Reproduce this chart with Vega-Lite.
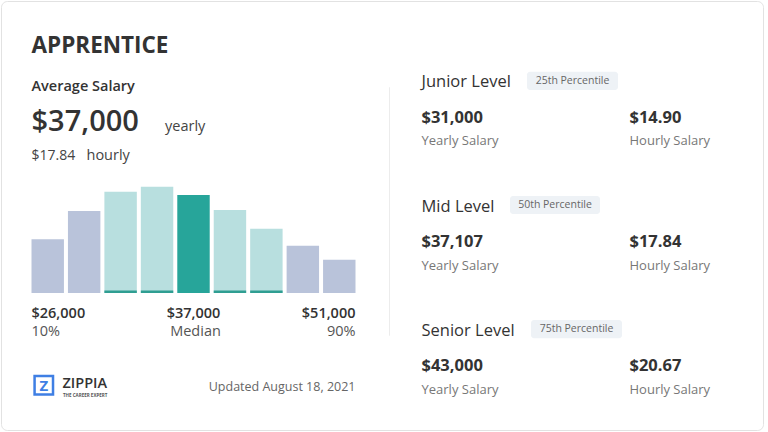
{
  "$schema": "https://vega.github.io/schema/vega-lite/v6.json",
  "width": 768,
  "height": 432,
  "autosize": {"type": "fit", "contains": "padding"},
  "padding": {"left": 1, "top": 1, "right": 5, "bottom": 2},
  "background": "white",
  "config": {
    "font": "Open Sans",
    "view": {"stroke": "#e2e2e2", "cornerRadius": 6, "strokeWidth": 1},
    "axis": {"disable": true},
    "legend": {"disable": true},
    "text": {"font": "Open Sans", "baseline": "alphabetic", "align": "left", "color": "#333333"}
  },
  "datasets": {
    "bars": [
      {"bin": 1, "share": 53.7, "tier": "outer"},
      {"bin": 2, "share": 82, "tier": "outer"},
      {"bin": 3, "share": 101.3, "tier": "mid"},
      {"bin": 4, "share": 106.3, "tier": "mid"},
      {"bin": 5, "share": 98, "tier": "median"},
      {"bin": 6, "share": 83, "tier": "mid"},
      {"bin": 7, "share": 64.3, "tier": "mid"},
      {"bin": 8, "share": 47.3, "tier": "outer"},
      {"bin": 9, "share": 33.3, "tier": "outer"}
    ],
    "marks": [
      {"bin": 1, "salary": "$26,000", "label": "10%"},
      {"bin": 5, "salary": "$37,000", "label": "Median"},
      {"bin": 9, "salary": "$51,000", "label": "90%"}
    ],
    "header": [
      {"line": "title", "value": "APPRENTICE", "unit": ""},
      {"line": "label", "value": "Average Salary", "unit": ""},
      {"line": "salary", "value": "$37,000", "unit": "yearly"},
      {"line": "hourly", "value": "$17.84", "unit": "hourly"}
    ],
    "levels": [
      {"level": "Junior Level", "pct": "25th Percentile", "yearly": "$31,000", "hourly": "$14.90"},
      {"level": "Mid Level", "pct": "50th Percentile", "yearly": "$37,107", "hourly": "$17.84"},
      {"level": "Senior Level", "pct": "75th Percentile", "yearly": "$43,000", "hourly": "$20.67"}
    ],
    "footer": [
      {"icon": "Z", "brand": "ZIPPIA", "tagline": "THE CAREER EXPERT", "updated": "Updated August 18, 2021"}
    ]
  },
  "layer": [
    {
      "layer": [
        {
          "data": {"name": "bars"},
          "mark": {"type": "bar"},
          "encoding": {
            "x": {"field": "bin", "type": "ordinal", "scale": {"type": "band", "domain": [1, 2, 3, 4, 5, 6, 7, 8, 9], "range": [30.5, 354.5], "paddingInner": 0.11, "paddingOuter": 0}, "axis": null},
            "y": {"field": "share", "type": "quantitative", "scale": {"domain": [0, 110], "range": [292, 182], "nice": false, "zero": true}, "axis": null},
            "color": {"field": "tier", "type": "nominal", "scale": {"domain": ["outer", "mid", "median"], "range": ["#b9c3da", "#b8dfdf", "#27a59a"]}, "legend": null}
          }
        },
        {
          "data": {"name": "bars"},
          "transform": [{"filter": "datum.tier == 'mid'"}],
          "mark": {"type": "bar", "color": "#2f9e92"},
          "encoding": {
            "x": {"field": "bin", "type": "ordinal"},
            "y": {"datum": 2.5, "type": "quantitative"},
            "y2": {"datum": 0}
          }
        },
        {
          "data": {"name": "marks"},
          "transform": [{"filter": "datum.bin == 1"}],
          "mark": {"type": "text", "align": "left", "dy": 25, "fontSize": 14.5, "fontWeight": 600, "color": "#333333"},
          "encoding": {
            "x": {"field": "bin", "type": "ordinal", "bandPosition": 0},
            "y": {"datum": 0, "type": "quantitative"},
            "text": {"field": "salary"}
          }
        },
        {
          "data": {"name": "marks"},
          "transform": [{"filter": "datum.bin == 1"}],
          "mark": {"type": "text", "align": "left", "dy": 43, "fontSize": 14.5, "color": "#555555"},
          "encoding": {
            "x": {"field": "bin", "type": "ordinal", "bandPosition": 0},
            "y": {"datum": 0, "type": "quantitative"},
            "text": {"field": "label"}
          }
        },
        {
          "data": {"name": "marks"},
          "transform": [{"filter": "datum.bin == 5"}],
          "mark": {"type": "text", "align": "center", "dy": 25, "fontSize": 14.5, "fontWeight": 600, "color": "#333333"},
          "encoding": {
            "x": {"field": "bin", "type": "ordinal", "bandPosition": 0.5},
            "y": {"datum": 0, "type": "quantitative"},
            "text": {"field": "salary"}
          }
        },
        {
          "data": {"name": "marks"},
          "transform": [{"filter": "datum.bin == 5"}],
          "mark": {"type": "text", "align": "center", "dy": 43, "dx": 2, "fontSize": 14.5, "color": "#555555"},
          "encoding": {
            "x": {"field": "bin", "type": "ordinal", "bandPosition": 0.5},
            "y": {"datum": 0, "type": "quantitative"},
            "text": {"field": "label"}
          }
        },
        {
          "data": {"name": "marks"},
          "transform": [{"filter": "datum.bin == 9"}],
          "mark": {"type": "text", "align": "right", "dy": 25, "fontSize": 14.5, "fontWeight": 600, "color": "#333333"},
          "encoding": {
            "x": {"field": "bin", "type": "ordinal", "bandPosition": 1},
            "y": {"datum": 0, "type": "quantitative"},
            "text": {"field": "salary"}
          }
        },
        {
          "data": {"name": "marks"},
          "transform": [{"filter": "datum.bin == 9"}],
          "mark": {"type": "text", "align": "right", "dy": 43, "fontSize": 14.5, "color": "#555555"},
          "encoding": {
            "x": {"field": "bin", "type": "ordinal", "bandPosition": 1},
            "y": {"datum": 0, "type": "quantitative"},
            "text": {"field": "label"}
          }
        },
        {
          "data": {"name": "footer"},
          "mark": {"type": "point", "shape": "square", "filled": false, "stroke": "#3f7fe4", "strokeWidth": 2.5, "size": 340, "xOffset": 12.3, "yOffset": 92.3, "opacity": 1},
          "encoding": {
            "x": {"datum": 1, "type": "ordinal", "bandPosition": 0},
            "y": {"datum": 0, "type": "quantitative"}
          }
        },
        {
          "data": {"name": "footer"},
          "mark": {"type": "text", "align": "center", "baseline": "middle", "dx": 12.3, "dy": 92.8, "fontSize": 15, "fontWeight": "bold", "color": "#3f7fe4"},
          "encoding": {
            "x": {"datum": 1, "type": "ordinal", "bandPosition": 0},
            "y": {"datum": 0, "type": "quantitative"},
            "text": {"field": "icon"}
          }
        },
        {
          "data": {"name": "footer"},
          "mark": {"type": "text", "align": "left", "dx": 31, "dy": 95, "fontSize": 14.5, "fontWeight": 600, "letterSpacing": 4.3, "color": "#333333"},
          "encoding": {
            "x": {"datum": 1, "type": "ordinal", "bandPosition": 0},
            "y": {"datum": 0, "type": "quantitative"},
            "text": {"field": "brand"}
          }
        },
        {
          "data": {"name": "footer"},
          "mark": {"type": "text", "align": "left", "dx": 31.5, "dy": 103.5, "fontSize": 4.5, "fontWeight": "bold", "letterSpacing": 1.3, "color": "#555555"},
          "encoding": {
            "x": {"datum": 1, "type": "ordinal", "bandPosition": 0},
            "y": {"datum": 0, "type": "quantitative"},
            "text": {"field": "tagline"}
          }
        },
        {
          "data": {"name": "footer"},
          "mark": {"type": "text", "align": "right", "dy": 97.7, "fontSize": 12.5, "color": "#666666"},
          "encoding": {
            "x": {"datum": 9, "type": "ordinal", "bandPosition": 1},
            "y": {"datum": 0, "type": "quantitative"},
            "text": {"field": "updated"}
          }
        }
      ]
    },
    {
      "data": {"name": "header"},
      "layer": [
        {
          "transform": [{"filter": "datum.line == 'title'"}],
          "mark": {"type": "text", "fontSize": 22.5, "fontWeight": "bold", "color": "#333333"},
          "encoding": {
            "x": {"datum": "value", "type": "nominal", "scale": {"type": "point", "domain": ["value", "unit"], "range": [30.5, 164], "padding": 0}},
            "y": {"field": "line", "type": "nominal", "scale": {"type": "point", "domain": ["title", "label", "salary", "hourly"], "range": [52.3, 159], "padding": 0}},
            "text": {"field": "value"}
          }
        },
        {
          "transform": [{"filter": "datum.line == 'label'"}],
          "mark": {"type": "text", "fontSize": 14.5, "fontWeight": 600, "dy": 1.8, "color": "#333333"},
          "encoding": {
            "x": {"datum": "value", "type": "nominal"},
            "y": {"field": "line", "type": "nominal"},
            "text": {"field": "value"}
          }
        },
        {
          "transform": [{"filter": "datum.line == 'salary'"}],
          "mark": {"type": "text", "fontSize": 29, "fontWeight": 600, "dy": 7, "color": "#333333"},
          "encoding": {
            "x": {"datum": "value", "type": "nominal"},
            "y": {"field": "line", "type": "nominal"},
            "text": {"field": "value"}
          }
        },
        {
          "transform": [{"filter": "datum.line == 'salary'"}],
          "mark": {"type": "text", "fontSize": 14.5, "dy": 6.6, "color": "#444444"},
          "encoding": {
            "x": {"datum": "unit", "type": "nominal"},
            "y": {"field": "line", "type": "nominal"},
            "text": {"field": "unit"}
          }
        },
        {
          "transform": [{"filter": "datum.line == 'hourly'"}],
          "mark": {"type": "text", "fontSize": 14, "color": "#444444"},
          "encoding": {
            "x": {"datum": "value", "type": "nominal"},
            "y": {"field": "line", "type": "nominal"},
            "text": {"field": "value"}
          }
        },
        {
          "transform": [{"filter": "datum.line == 'hourly'"}],
          "mark": {"type": "text", "fontSize": 14.5, "dx": 55, "dy": -0.5, "color": "#444444"},
          "encoding": {
            "x": {"datum": "value", "type": "nominal"},
            "y": {"field": "line", "type": "nominal"},
            "text": {"field": "unit"}
          }
        }
      ]
    },
    {
      "data": {"name": "levels"},
      "layer": [
        {
          "mark": {"type": "text", "fontSize": 16.5, "color": "#333333"},
          "encoding": {
            "x": {"datum": "Yearly", "type": "nominal", "scale": {"type": "point", "domain": ["Yearly", "Hourly"], "range": [420.5, 628.5], "padding": 0}},
            "y": {"field": "level", "type": "nominal", "scale": {"type": "point", "domain": ["Junior Level", "Mid Level", "Senior Level"], "range": [86.3, 334.7], "padding": 0}},
            "text": {"field": "level"}
          }
        },
        {
          "mark": {"type": "text", "fontSize": 16.5, "fontWeight": "bold", "dy": 35.5, "color": "#333333"},
          "encoding": {
            "x": {"datum": "Yearly", "type": "nominal"},
            "y": {"field": "level", "type": "nominal"},
            "text": {"field": "yearly"}
          }
        },
        {
          "mark": {"type": "text", "fontSize": 16.5, "fontWeight": "bold", "dy": 35.5, "color": "#333333"},
          "encoding": {
            "x": {"datum": "Hourly", "type": "nominal"},
            "y": {"field": "level", "type": "nominal"},
            "text": {"field": "hourly"}
          }
        },
        {
          "mark": {"type": "text", "text": "Yearly Salary", "fontSize": 13, "dy": 58, "color": "#777777"},
          "encoding": {
            "x": {"datum": "Yearly", "type": "nominal"},
            "y": {"field": "level", "type": "nominal"}
          }
        },
        {
          "mark": {"type": "text", "text": "Hourly Salary", "fontSize": 13, "dy": 58, "color": "#777777"},
          "encoding": {
            "x": {"datum": "Hourly", "type": "nominal"},
            "y": {"field": "level", "type": "nominal"}
          }
        },
        {
          "transform": [{"filter": "datum.level == 'Junior Level'"}],
          "mark": {"type": "rect", "color": "#eef2f6", "cornerRadius": 3, "xOffset": 105.5, "x2Offset": 196.5, "yOffset": -15.6, "y2Offset": 2.6},
          "encoding": {
            "x": {"datum": "Yearly", "type": "nominal"},
            "x2": {"datum": "Yearly"},
            "y": {"field": "level", "type": "nominal"},
            "y2": {"field": "level"}
          }
        },
        {
          "transform": [{"filter": "datum.level == 'Mid Level'"}],
          "mark": {"type": "rect", "color": "#eef2f6", "cornerRadius": 3, "xOffset": 88.5, "x2Offset": 178.5, "yOffset": -15.6, "y2Offset": 2.6},
          "encoding": {
            "x": {"datum": "Yearly", "type": "nominal"},
            "x2": {"datum": "Yearly"},
            "y": {"field": "level", "type": "nominal"},
            "y2": {"field": "level"}
          }
        },
        {
          "transform": [{"filter": "datum.level == 'Senior Level'"}],
          "mark": {"type": "rect", "color": "#eef2f6", "cornerRadius": 3, "xOffset": 109.5, "x2Offset": 200.5, "yOffset": -15.6, "y2Offset": 2.6},
          "encoding": {
            "x": {"datum": "Yearly", "type": "nominal"},
            "x2": {"datum": "Yearly"},
            "y": {"field": "level", "type": "nominal"},
            "y2": {"field": "level"}
          }
        },
        {
          "transform": [{"filter": "datum.level == 'Junior Level'"}],
          "mark": {"type": "text", "align": "center", "baseline": "middle", "fontSize": 10.5, "dx": 151, "dy": -6.5, "color": "#666666"},
          "encoding": {
            "x": {"datum": "Yearly", "type": "nominal"},
            "y": {"field": "level", "type": "nominal"},
            "text": {"field": "pct"}
          }
        },
        {
          "transform": [{"filter": "datum.level == 'Mid Level'"}],
          "mark": {"type": "text", "align": "center", "baseline": "middle", "fontSize": 10.5, "dx": 133.5, "dy": -6.5, "color": "#666666"},
          "encoding": {
            "x": {"datum": "Yearly", "type": "nominal"},
            "y": {"field": "level", "type": "nominal"},
            "text": {"field": "pct"}
          }
        },
        {
          "transform": [{"filter": "datum.level == 'Senior Level'"}],
          "mark": {"type": "text", "align": "center", "baseline": "middle", "fontSize": 10.5, "dx": 155, "dy": -6.5, "color": "#666666"},
          "encoding": {
            "x": {"datum": "Yearly", "type": "nominal"},
            "y": {"field": "level", "type": "nominal"},
            "text": {"field": "pct"}
          }
        },
        {
          "transform": [{"filter": "datum.level == 'Junior Level'"}],
          "mark": {"type": "rule", "color": "#ececec", "strokeWidth": 1, "xOffset": -32},
          "encoding": {
            "x": {"datum": "Yearly", "type": "nominal"},
            "y": {"datum": "Junior Level", "type": "nominal"},
            "y2": {"datum": "Senior Level"}
          }
        }
      ]
    }
  ],
  "resolve": {"scale": {"x": "independent", "y": "independent", "color": "independent"}}
}
